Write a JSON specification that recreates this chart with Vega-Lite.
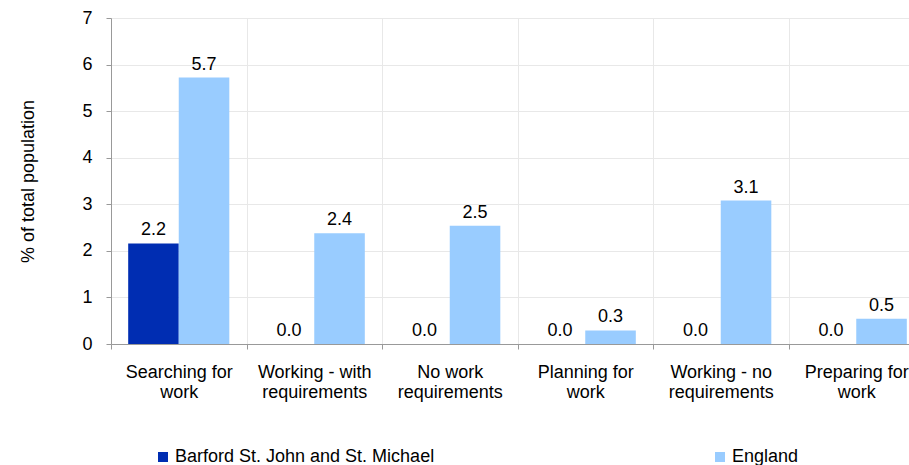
{
  "$schema": "https://vega.github.io/schema/vega-lite/v6.json",
  "width": 798,
  "height": 326,
  "autosize": {"type": "none"},
  "padding": {"left": 111, "top": 18, "right": 0, "bottom": 121},
  "config": {
    "font": "Liberation Sans",
    "view": {"stroke": null},
    "axis": {"labelColor": "#000000", "labelFontSize": 18, "titleColor": "#000000"}
  },
  "data": {
    "values": [
      {"category": "Searching for work", "series": "Barford St. John and St. Michael", "value": 2.16},
      {"category": "Searching for work", "series": "England", "value": 5.72},
      {"category": "Working - with requirements", "series": "Barford St. John and St. Michael", "value": 0},
      {"category": "Working - with requirements", "series": "England", "value": 2.38},
      {"category": "No work requirements", "series": "Barford St. John and St. Michael", "value": 0},
      {"category": "No work requirements", "series": "England", "value": 2.54},
      {"category": "Planning for work", "series": "Barford St. John and St. Michael", "value": 0},
      {"category": "Planning for work", "series": "England", "value": 0.29},
      {"category": "Working - no requirements", "series": "Barford St. John and St. Michael", "value": 0},
      {"category": "Working - no requirements", "series": "England", "value": 3.08},
      {"category": "Preparing for work", "series": "Barford St. John and St. Michael", "value": 0},
      {"category": "Preparing for work", "series": "England", "value": 0.54}
    ]
  },
  "encoding": {
    "x": {
      "field": "category",
      "type": "nominal",
      "sort": null,
      "scale": {"range": [0, 813], "paddingInner": 0, "paddingOuter": 0},
      "axis": {
        "title": null,
        "labelAngle": 0,
        "labelLimit": 0,
        "labelPadding": 14,
        "labelLineHeight": 20,
        "tickBand": "extent",
        "grid": true,
        "gridColor": "#e8e8e8",
        "domainColor": "#999999",
        "tickColor": "#999999",
        "tickSize": 5,
        "labelExpr": "{'Searching for work':['Searching for','work'],'Working - with requirements':['Working - with','requirements'],'No work requirements':['No work','requirements'],'Planning for work':['Planning for','work'],'Working - no requirements':['Working - no','requirements'],'Preparing for work':['Preparing for','work']}[datum.label]"
      }
    },
    "xOffset": {
      "field": "series",
      "type": "nominal",
      "sort": null,
      "scale": {"paddingOuter": 0.34, "paddingInner": 0}
    },
    "y": {
      "field": "value",
      "type": "quantitative",
      "scale": {"domain": [0, 7], "nice": false},
      "axis": {
        "title": "% of total population",
        "titleFontSize": 18,
        "titleFontWeight": "normal",
        "titlePadding": 44,
        "values": [0, 1, 2, 3, 4, 5, 6, 7],
        "grid": true,
        "gridColor": "#e8e8e8",
        "domainColor": "#999999",
        "tickColor": "#999999",
        "tickSize": 5,
        "labelPadding": 14
      }
    }
  },
  "layer": [
    {
      "mark": {"type": "bar"},
      "encoding": {
        "color": {
          "field": "series",
          "type": "nominal",
          "sort": null,
          "scale": {"domain": ["Barford St. John and St. Michael", "England"], "range": ["#002db2", "#99ccff"]},
          "legend": {
            "orient": "none",
            "legendX": 43,
            "legendY": 430,
            "direction": "horizontal",
            "columns": 2,
            "columnPadding": 276,
            "title": null,
            "labelFontSize": 18,
            "labelLimit": 500,
            "labelOffset": 3,
            "labelColor": "#000000",
            "symbolType": "square",
            "symbolSize": 100,
            "symbolStrokeWidth": 0
          }
        }
      }
    },
    {
      "mark": {"type": "text", "fontSize": 18, "color": "#000000", "baseline": "alphabetic", "dy": -8},
      "encoding": {
        "text": {"field": "value", "type": "quantitative", "format": ".1f"}
      }
    }
  ]
}
